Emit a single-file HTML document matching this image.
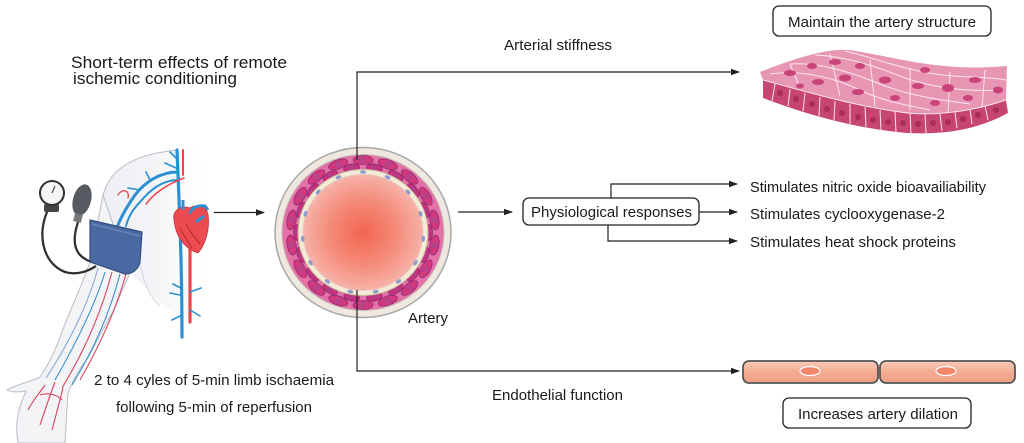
<!DOCTYPE html>
<html><head><meta charset="utf-8"><style>
html,body{margin:0;padding:0;background:#fff;}
svg{display:block;}
text{font-family:"Liberation Sans",Arial,sans-serif;fill:#1a1a1a;}
</style></head><body>
<svg width="1024" height="443" viewBox="0 0 1024 443" xmlns="http://www.w3.org/2000/svg">
<defs>
<marker id="ah" markerWidth="9" markerHeight="8" refX="8" refY="4" orient="auto" markerUnits="userSpaceOnUse">
<path d="M0,0.8 L9,4 L0,7.2 Z" fill="#222"/>
</marker>
<radialGradient id="lumen" cx="0.5" cy="0.5" r="0.5">
<stop offset="0" stop-color="#f26650"/>
<stop offset="0.55" stop-color="#f48a78"/>
<stop offset="1" stop-color="#f7b2a8"/>
</radialGradient>
<linearGradient id="cellg" x1="0" y1="0" x2="0" y2="1">
<stop offset="0" stop-color="#f9cbb8"/>
<stop offset="0.5" stop-color="#f4ac92"/>
<stop offset="1" stop-color="#efa085"/>
</linearGradient>
<linearGradient id="torso" x1="0" y1="0" x2="1" y2="0">
<stop offset="0" stop-color="#eceef2"/>
<stop offset="0.6" stop-color="#f5f6f8"/>
<stop offset="1" stop-color="#ffffff"/>
</linearGradient>
<g id="acell">
<ellipse cx="363" cy="160" rx="10" ry="4.5" fill="#d2387a" stroke="#8c2c78" stroke-width="0.8"/>
<circle cx="363" cy="160" r="2.2" fill="none" stroke="#7d5aa8" stroke-width="0.8"/>
</g>
<g id="acell2">
<ellipse cx="363" cy="167" rx="8" ry="4" fill="#c8307a" stroke="#8c2c78" stroke-width="0.8"/>
<circle cx="363" cy="167" r="1.8" fill="none" stroke="#7d5aa8" stroke-width="0.7"/>
</g>
<g id="dot"><ellipse cx="363" cy="172" rx="3" ry="1.8" fill="#8d9ccc"/></g>
</defs>

<!-- Title -->
<text x="71" y="68" font-size="17" textLength="216" lengthAdjust="spacingAndGlyphs">Short-term effects of remote</text>
<text x="73" y="84" font-size="17" textLength="164" lengthAdjust="spacingAndGlyphs">ischemic conditioning</text>

<!-- Arm illustration -->
<path d="M103,195 C110,168 135,154 178,150 L200,150 C206,200 206,280 200,318 C185,318 160,308 148,290 L130,273 L100,262 Z" fill="url(#torso)"/>
<path d="M103,195 C110,168 135,154 178,150" fill="none" stroke="#b8bdc5" stroke-width="1"/>
<path d="M140,262 C143,280 148,295 160,306" fill="none" stroke="#d3d6db" stroke-width="1"/>
<path d="M103,195 L90,262 C80,290 68,315 60,337 C55,352 48,365 40,377 C30,382 15,385 7,390 C12,393 20,392 26,391 C20,405 14,420 18,443 L65,443 C66,425 67,405 68,393 C75,375 82,365 88,358 C100,335 108,320 115,308 C120,295 126,283 130,273 Z" fill="#f3f4f6" stroke="#b8bdc5" stroke-width="1"/>
<!-- vessels in arm -->
<g fill="none" stroke-width="1.1">
<path d="M105,272 C95,305 75,345 55,380" stroke="#3a8fd0"/>
<path d="M112,272 C102,310 85,350 62,388" stroke="#d9435a"/>
<path d="M120,274 C110,312 95,348 72,385" stroke="#3a8fd0"/>
<path d="M98,268 C88,305 68,345 46,378" stroke="#8aa8d8"/>
<path d="M126,274 C116,310 100,345 80,380" stroke="#d9435a"/>
<path d="M55,382 C50,395 45,410 40,425 M63,388 C60,400 56,415 52,430 M45,385 C38,395 32,402 28,410 M40,395 C48,392 58,395 62,400" stroke="#d9435a"/>
</g>
<!-- main vessels -->
<g fill="none" stroke-linecap="round">
<path d="M177,150 C179,200 182,260 182,337" stroke="#2b8fd2" stroke-width="3.2"/>
<path d="M183,150 L183,175" stroke="#e8474f" stroke-width="2"/>
<path d="M190,232 L190,322" stroke="#e8474f" stroke-width="3.2"/>
<path d="M178,172 C160,172 145,182 135,195 C128,205 122,215 118,225" stroke="#2b8fd2" stroke-width="3"/>
<path d="M178,180 C162,180 150,190 140,202 C132,210 128,218 126,226" stroke="#2b8fd2" stroke-width="2"/>
<path d="M184,178 C168,184 155,192 146,204" stroke="#e8474f" stroke-width="1.5"/>
<path d="M176,158 L170,152 M176,168 L165,163 M150,180 L146,172 M140,190 L128,188 M180,295 L170,293 M190,292 L201,288 M182,315 L172,320 M190,310 L200,316 M181,288 L173,284" stroke="#2b8fd2" stroke-width="1.6"/>
<path d="M118,195 C122,188 130,190 128,198" stroke="#e8474f" stroke-width="1.3"/>
</g>
<!-- heart -->
<path d="M174,220 C172,210 182,205 190,208 C196,204 206,206 208,214 C210,228 206,244 198,253 C188,250 176,240 174,220 Z" fill="#ec4c50" stroke="#c5303a" stroke-width="0.8"/>
<path d="M183,210 L183,200 M190,214 C192,207 198,205 205,206 L208,210 M196,222 L204,216" fill="none" stroke="#2b8fd2" stroke-width="3"/>
<path d="M186,224 C190,232 195,238 200,244 M180,228 C184,236 188,242 192,248" fill="none" stroke="#b82a35" stroke-width="1"/>
<!-- gauge and bulb -->
<path d="M48,210 C38,230 40,262 65,272 C78,276 90,270 96,266" fill="none" stroke="#333" stroke-width="2.3"/>
<path d="M78,222 C72,240 72,258 96,263" fill="none" stroke="#333" stroke-width="2.3"/>
<rect x="44" y="204" width="15" height="8" rx="2" fill="#444"/>
<circle cx="52" cy="193" r="12" fill="#f6f6f6" stroke="#333" stroke-width="2"/>
<path d="M52,193 L55,186" stroke="#333" stroke-width="1"/>
<ellipse cx="82" cy="200" rx="9" ry="16" transform="rotate(15 82 200)" fill="#555b61"/>
<rect x="74" y="214" width="8" height="8" fill="#777" transform="rotate(15 78 218)"/>
<!-- cuff -->
<path d="M90,220 L142,232 L140,262 C138,270 132,274 125,274 L90,262 Z" fill="#4a69a2" stroke="#344e80" stroke-width="1.2"/>
<path d="M92,224 L140,236" stroke="#6a86b8" stroke-width="1.5"/>

<text x="94" y="385" font-size="15" textLength="240" lengthAdjust="spacingAndGlyphs">2 to 4 cyles of 5-min limb ischaemia</text>
<text x="116" y="412" font-size="15" textLength="196" lengthAdjust="spacingAndGlyphs">following 5-min of reperfusion</text>

<!-- arrow arm -> artery -->
<line x1="214" y1="212.5" x2="264" y2="212.5" stroke="#222" stroke-width="1.2" marker-end="url(#ah)"/>

<!-- Artery cross-section -->
<ellipse cx="363" cy="232.5" rx="88" ry="85" fill="#efe8e0" stroke="#a7a7a7" stroke-width="1.5"/>
<ellipse cx="363" cy="232.5" rx="81" ry="78" fill="#e370a6" stroke="#c9c0b8" stroke-width="1"/>
<g>
<use href="#acell"/><use href="#acell" transform="rotate(20 363 232.5)"/><use href="#acell" transform="rotate(40 363 232.5)"/><use href="#acell" transform="rotate(60 363 232.5)"/><use href="#acell" transform="rotate(80 363 232.5)"/><use href="#acell" transform="rotate(100 363 232.5)"/><use href="#acell" transform="rotate(120 363 232.5)"/><use href="#acell" transform="rotate(140 363 232.5)"/><use href="#acell" transform="rotate(160 363 232.5)"/><use href="#acell" transform="rotate(180 363 232.5)"/><use href="#acell" transform="rotate(200 363 232.5)"/><use href="#acell" transform="rotate(220 363 232.5)"/><use href="#acell" transform="rotate(240 363 232.5)"/><use href="#acell" transform="rotate(260 363 232.5)"/><use href="#acell" transform="rotate(280 363 232.5)"/><use href="#acell" transform="rotate(300 363 232.5)"/><use href="#acell" transform="rotate(320 363 232.5)"/><use href="#acell" transform="rotate(340 363 232.5)"/>
<use href="#acell2" transform="rotate(10 363 232.5)"/><use href="#acell2" transform="rotate(30 363 232.5)"/><use href="#acell2" transform="rotate(50 363 232.5)"/><use href="#acell2" transform="rotate(70 363 232.5)"/><use href="#acell2" transform="rotate(90 363 232.5)"/><use href="#acell2" transform="rotate(110 363 232.5)"/><use href="#acell2" transform="rotate(130 363 232.5)"/><use href="#acell2" transform="rotate(150 363 232.5)"/><use href="#acell2" transform="rotate(170 363 232.5)"/><use href="#acell2" transform="rotate(190 363 232.5)"/><use href="#acell2" transform="rotate(210 363 232.5)"/><use href="#acell2" transform="rotate(230 363 232.5)"/><use href="#acell2" transform="rotate(250 363 232.5)"/><use href="#acell2" transform="rotate(270 363 232.5)"/><use href="#acell2" transform="rotate(290 363 232.5)"/><use href="#acell2" transform="rotate(310 363 232.5)"/><use href="#acell2" transform="rotate(330 363 232.5)"/><use href="#acell2" transform="rotate(350 363 232.5)"/>
</g>
<ellipse cx="363" cy="232.5" rx="65" ry="63" fill="#f3ead8" stroke="#cbbd9a" stroke-width="1"/>
<ellipse cx="363" cy="232.5" rx="60" ry="58" fill="url(#lumen)" stroke="#e8c8b8" stroke-width="1"/>
<g>
<use href="#dot"/><use href="#dot" transform="rotate(24 363 232.5)"/><use href="#dot" transform="rotate(48 363 232.5)"/><use href="#dot" transform="rotate(72 363 232.5)"/><use href="#dot" transform="rotate(96 363 232.5)"/><use href="#dot" transform="rotate(120 363 232.5)"/><use href="#dot" transform="rotate(144 363 232.5)"/><use href="#dot" transform="rotate(168 363 232.5)"/><use href="#dot" transform="rotate(192 363 232.5)"/><use href="#dot" transform="rotate(216 363 232.5)"/><use href="#dot" transform="rotate(240 363 232.5)"/><use href="#dot" transform="rotate(264 363 232.5)"/><use href="#dot" transform="rotate(288 363 232.5)"/><use href="#dot" transform="rotate(312 363 232.5)"/><use href="#dot" transform="rotate(336 363 232.5)"/>
</g>
<text x="408" y="323" font-size="15" textLength="40" lengthAdjust="spacingAndGlyphs">Artery</text>

<!-- Arterial stiffness connector -->
<polyline points="357,160 357,72 739,72" fill="none" stroke="#222" stroke-width="1.2" marker-end="url(#ah)"/>
<text x="504" y="50" font-size="15" textLength="108" lengthAdjust="spacingAndGlyphs">Arterial stiffness</text>

<!-- Endothelial connector -->
<polyline points="357,290 357,371 739,371" fill="none" stroke="#222" stroke-width="1.2" marker-end="url(#ah)"/>
<text x="492" y="400" font-size="15" textLength="131" lengthAdjust="spacingAndGlyphs">Endothelial function</text>

<!-- artery -> physiological -->
<line x1="458" y1="212" x2="512" y2="212" stroke="#222" stroke-width="1.2" marker-end="url(#ah)"/>
<rect x="523" y="198" width="176" height="27" rx="6" fill="#fff" stroke="#222" stroke-width="1.3"/>
<text x="531" y="217" font-size="15" textLength="161" lengthAdjust="spacingAndGlyphs">Physiological responses</text>
<polyline points="611,198 611,184 737,184" fill="none" stroke="#222" stroke-width="1.2" marker-end="url(#ah)"/>
<line x1="699" y1="212" x2="737" y2="212" stroke="#222" stroke-width="1.2" marker-end="url(#ah)"/>
<polyline points="608,225 608,241 737,241" fill="none" stroke="#222" stroke-width="1.2" marker-end="url(#ah)"/>
<text x="750" y="192" font-size="14.5" textLength="236" lengthAdjust="spacingAndGlyphs">Stimulates nitric oxide bioavailiability</text>
<text x="750" y="219" font-size="14.5" textLength="195" lengthAdjust="spacingAndGlyphs">Stimulates cyclooxygenase-2</text>
<text x="750" y="247" font-size="14.5" textLength="206" lengthAdjust="spacingAndGlyphs">Stimulates heat shock proteins</text>

<!-- Maintain box -->
<rect x="773" y="6" width="218" height="30" rx="6" fill="#fff" stroke="#222" stroke-width="1.3"/>
<text x="788" y="27" font-size="15" textLength="188" lengthAdjust="spacingAndGlyphs">Maintain the artery structure</text>

<!-- Tissue sheet -->
<path d="M763,80 C800,90 850,105 900,112 C925,116 965,114 1006,100 L1008,113 C980,128 950,135 907,133 C850,128 800,112 763,98 Z" fill="#c7466f"/>
<path d="M760,72 C800,56 830,48 850,50 C900,58 940,72 1007,66 L1006,100 C965,114 925,116 900,112 C850,105 800,90 763,80 Z" fill="#e796b3"/>
<g stroke="#fbe6ee" stroke-width="1" fill="none">
<path d="M763,80 C800,90 850,105 900,112 C925,116 965,114 1006,100"/>
<path d="M775,84 L772,101 M790,89 L788,106 M805,93 L803,111 M820,97 L819,116 M835,101 L834,120 M850,104 L850,124 M865,107 L866,127 M880,110 L881,130 M895,112 L896,132 M910,113 L911,133 M925,114 L926,133 M940,114 L942,131 M955,112 L957,128 M970,109 L972,124 M985,106 L988,120"/>
<path d="M770,74 C800,70 830,76 860,90 C880,100 900,104 930,110"/>
<path d="M790,64 C820,62 850,72 880,84 C910,96 940,100 970,104"/>
<path d="M815,55 C845,56 875,66 905,78 C935,88 965,92 1000,90"/>
<path d="M845,51 C875,58 905,70 935,74 C960,78 985,76 1006,80"/>
<path d="M790,64 L800,88 M830,54 L840,96 M870,60 L875,106 M910,68 L910,110 M950,72 L948,113 M985,70 L982,108"/>
</g>
<g fill="#c94479">
<ellipse cx="790" cy="73" rx="6" ry="3"/><ellipse cx="812" cy="66" rx="5" ry="3"/><ellipse cx="835" cy="62" rx="6" ry="3"/>
<ellipse cx="818" cy="82" rx="6" ry="3"/><ellipse cx="845" cy="78" rx="6" ry="3.5"/><ellipse cx="860" cy="66" rx="5" ry="3"/>
<ellipse cx="858" cy="92" rx="6" ry="3"/><ellipse cx="885" cy="80" rx="6" ry="3.5"/><ellipse cx="895" cy="98" rx="5" ry="3"/>
<ellipse cx="918" cy="86" rx="6" ry="3"/><ellipse cx="925" cy="70" rx="5" ry="3"/><ellipse cx="948" cy="88" rx="6" ry="4"/>
<ellipse cx="935" cy="103" rx="5" ry="3"/><ellipse cx="968" cy="98" rx="5" ry="3"/><ellipse cx="975" cy="80" rx="6" ry="3"/>
<ellipse cx="998" cy="90" rx="5" ry="3.5"/><ellipse cx="800" cy="86" rx="4" ry="2.5"/>
</g>
<g fill="#a72e58">
<ellipse cx="780" cy="93" rx="3" ry="3"/><ellipse cx="796" cy="99" rx="3" ry="3"/><ellipse cx="812" cy="104" rx="3" ry="3"/><ellipse cx="827" cy="109" rx="3" ry="3"/><ellipse cx="842" cy="113" rx="3" ry="3"/><ellipse cx="858" cy="117" rx="3" ry="3"/><ellipse cx="873" cy="120" rx="3" ry="3"/><ellipse cx="888" cy="122" rx="3" ry="3"/><ellipse cx="903" cy="123" rx="3" ry="3"/><ellipse cx="918" cy="124" rx="3" ry="3"/><ellipse cx="933" cy="123" rx="3" ry="3"/><ellipse cx="948" cy="122" rx="3" ry="3"/><ellipse cx="963" cy="119" rx="3" ry="3"/><ellipse cx="978" cy="115" rx="3" ry="3"/><ellipse cx="996" cy="110" rx="3" ry="3"/>
</g>

<!-- Endothelial cells -->
<rect x="743" y="361" width="135" height="22" rx="6" fill="url(#cellg)" stroke="#555" stroke-width="1.8"/>
<rect x="880" y="361" width="135" height="22" rx="6" fill="url(#cellg)" stroke="#555" stroke-width="1.8"/>
<ellipse cx="810" cy="371" rx="10" ry="4.5" fill="#f2866a" stroke="#fff" stroke-width="1.2"/>
<ellipse cx="946" cy="371" rx="10" ry="4.5" fill="#f2866a" stroke="#fff" stroke-width="1.2"/>

<!-- Increases box -->
<rect x="783" y="398" width="188" height="30" rx="6" fill="#fff" stroke="#222" stroke-width="1.3"/>
<text x="798" y="419" font-size="15" textLength="160" lengthAdjust="spacingAndGlyphs">Increases artery dilation</text>
</svg>
</body></html>
